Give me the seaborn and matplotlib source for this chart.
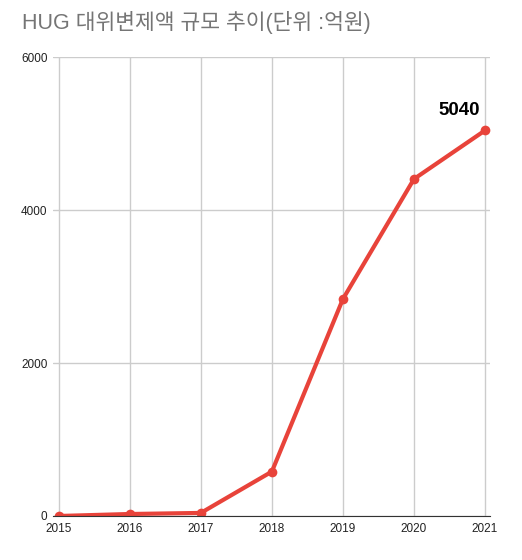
import pandas as pd
import matplotlib.pyplot as plt
import seaborn as sns

# 데이터 (단위: 억원)
years = [2015, 2016, 2017, 2018, 2019, 2020, 2021]
amounts = [0, 26, 40, 580, 2836, 4405, 5040]
title_text = "HUG 대위변제액 규모 추이(단위 :억원)"

df = pd.DataFrame({"year": years, "amount": amounts})

sns.set_style("white")
plt.rcParams['font.family'] = ['Liberation Sans', 'Noto Sans CJK KR', 'DejaVu Sans']

fig = plt.figure(figsize=(5.22, 5.6), dpi=100)
ax = fig.add_axes([53 / 522, 44 / 560, 437 / 522, 459 / 560])

sns.lineplot(data=df, x="year", y="amount", ax=ax, color="#e8433a",
             linewidth=3, marker="o", markersize=7, markeredgewidth=0)

ax.set_xlim(2014.92, 2021.07)
ax.set_ylim(0, 6000)
ax.set_xticks(years)
ax.set_yticks([0, 2000, 4000, 6000])
ax.grid(True, color="#cccccc", linewidth=1)
ax.set_axisbelow(True)
for s in ["top", "right", "left"]:
    ax.spines[s].set_visible(False)
ax.spines["bottom"].set_color("#333333")
ax.tick_params(length=0, labelsize=8.5, colors="#222222")
ax.tick_params(axis="x", pad=5)
ax.tick_params(axis="y", pad=4)
ax.set_xlabel("")
ax.set_ylabel("")

# 마지막 값 라벨
ax.annotate(f"{amounts[-1]}", (years[-1], amounts[-1]), xytext=(-3.6, 11),
            textcoords="offset points", ha="right", va="baseline",
            fontsize=13.5, fontweight="bold", color="black",
            family=["Liberation Sans"])

fig.text(22 / 522, 1 - 22 / 560, title_text, fontsize=15.5, color="#757575",
         ha="left", va="center")

fig.savefig("out.png", dpi=100)
